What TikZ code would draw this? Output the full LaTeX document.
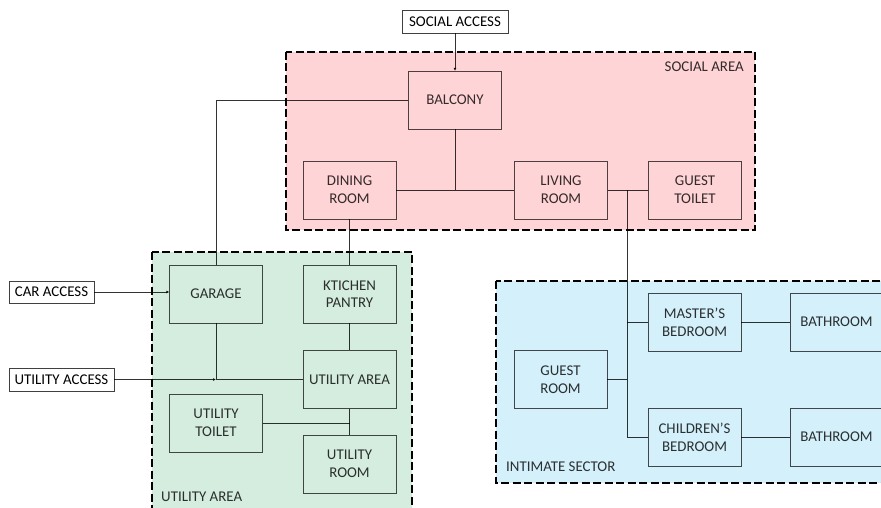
\documentclass[tikz,border=0pt]{standalone}
\usepackage{fontspec}
\setmainfont{Carlito}
\usepackage{xcolor}
\usetikzlibrary{arrows.meta,positioning}

\definecolor{socialfill}{RGB}{255,212,214}
\definecolor{utilfill}{RGB}{213,237,223}
\definecolor{intimfill}{RGB}{212,240,250}

\tikzset{
  room/.style={draw=black, draw opacity=0.7, text opacity=0.8, align=center,
               minimum width=93pt, minimum height=58pt, inner sep=0pt},
  access/.style={draw=black!75, fill=white, align=center, inner sep=0pt,
                 minimum height=23pt},
  zone/.style={draw=black, line width=1.5pt, dash pattern=on 8pt off 3.5pt},
  zonelabel/.style={inner sep=0pt, text=black, text opacity=0.8},
  link/.style={draw=black, draw opacity=0.8, line width=0.7pt},
  entry/.style={link, -{Latex[length=3pt,width=3pt]}}
}

\begin{document}
\begin{tikzpicture}[x=1pt,y=-1pt,font=\fontsize{14.9}{17.6}\selectfont]
\useasboundingbox (0,0) rectangle (881,508);
\clip (0,0) rectangle (881,508);

% zones
\draw[zone,fill=socialfill] (286,52) rectangle (755,230);
\draw[zone,fill=utilfill] (152,252) rectangle (412,530);
\draw[zone,fill=intimfill] (496,281) rectangle (900,483);
\node[zonelabel,anchor=east] (lblsocial) at (744,67) {SOCIAL AREA};
\node[zonelabel,anchor=west] (lblutil) at (161,497) {UTILITY AREA};
\node[zonelabel,anchor=west] (lblintim) at (506,467) {INTIMATE SECTOR};

% social area
\node[access,minimum width=106pt] (socacc) at (455,21.5) {SOCIAL ACCESS};
\node[room] (balcony) at (455,100) {BALCONY};
\node[room] (dining) at (349.5,190) {DINING\\ROOM};
\node[room] (living) at (561,190) {LIVING\\ROOM};
\node[room] (gtoilet) at (695,190) {GUEST\\TOILET};

% utility area
\node[access,minimum width=85pt,minimum height=22pt] (caracc) at (51.5,292) {CAR ACCESS};
\node[access,minimum width=105pt] (utilacc) at (61.5,379.5) {UTILITY ACCESS};
\node[room] (garage) at (216,294) {GARAGE};
\node[room] (pantry) at (349.5,294) {KTICHEN\\PANTRY};
\node[room] (utilarea) at (349.5,379.5) {UTILITY AREA};
\node[room] (utiltoilet) at (216,423) {UTILITY\\TOILET};
\node[room] (utilroom) at (349.5,464) {UTILITY\\ROOM};

% intimate sector
\node[room] (guestroom) at (560.5,379.5) {GUEST\\ROOM};
\node[room] (master) at (694.5,322) {MASTER'S\\BEDROOM};
\node[room] (children) at (694.5,437) {CHILDREN'S\\BEDROOM};
\node[room] (bathA) at (836.5,322) {BATHROOM};
\node[room] (bathB) at (836.5,437) {BATHROOM};

% junctions
\coordinate (jsoc) at (balcony.south |- dining.east);
\coordinate (jliv) at (627,190);
\coordinate (jgar) at (garage.south |- utilarea.west);
\coordinate (jutil) at (utilarea.south |- utiltoilet.east);

% links
\draw[entry] (socacc) -- (balcony);
\draw[link] (balcony.west) -| (garage.north);
\draw[link] (balcony) -- (jsoc);
\draw[link] (dining) -- (living);
\draw[link] (living) -- (gtoilet);
\draw[link] (jliv) |- (children.west);
\draw[link] (jliv |- master.west) -- (master.west);
\draw[link] (guestroom.east) -- (jliv |- guestroom.east);
\draw[link] (master) -- (bathA);
\draw[link] (children) -- (bathB);
\draw[link] (dining) -- (pantry);
\draw[link] (pantry) -- (utilarea);
\draw[entry] (caracc.east) -- (caracc.east -| garage.west);
\draw[entry] (utilacc) -- (jgar);
\draw[link] (garage) -- (jgar) -- (utilarea.west);
\draw[link] (utilarea) -- (utilroom);
\draw[link] (utiltoilet) -- (jutil);
\end{tikzpicture}
\end{document}
